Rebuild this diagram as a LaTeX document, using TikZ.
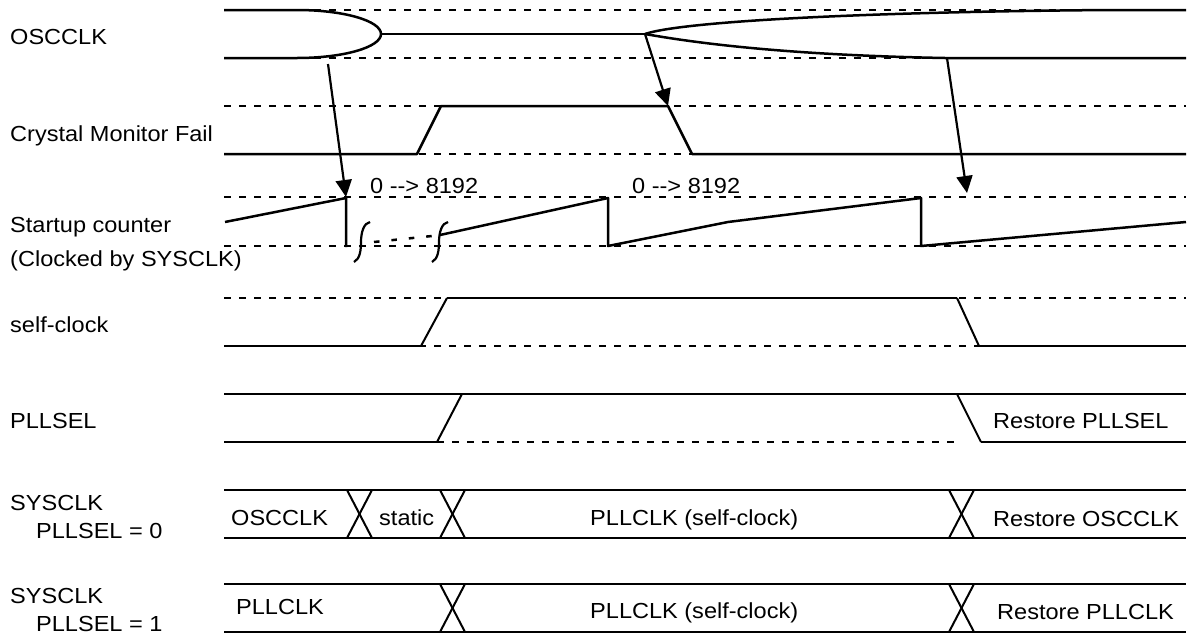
\documentclass[tikz,border=0pt]{standalone}
\usepackage{fontspec}
\setmainfont{Liberation Sans}[FakeStretch=1.08]
\usetikzlibrary{arrows.meta}
\tikzset{
  wave/.style={line width=2.5pt, line join=round},
  ramp/.style={line width=2pt},
  gridline/.style={line width=1.1pt, dash pattern=on 7pt off 8pt},
  brk/.style={line width=2.5pt, dash pattern=on 5.5pt off 12pt},
  sq/.style={line width=2.2pt},
  lbl/.style={anchor=base west, inner sep=0pt, font=\fontsize{21.8}{26}\selectfont},
  arr/.style={line width=2.2pt, -{Triangle[length=17pt,width=16pt]}},
}
\newcommand{\cntarrow}{0 -\kern0pt-\kern0pt> 8192}
\begin{document}
\begin{tikzpicture}[x=1pt,y=-1pt]
\useasboundingbox (0,0) rectangle (1192,635);
% dashed reference lines
\foreach \yy in {10,58,106,154,197,246,298,346}
  \draw[gridline] (224,\yy) -- (1186,\yy);
\draw[gridline] (437,442) -- (957,442);

% labels
\node[lbl] (lOSC) at (10,44) {OSCCLK};
\node[lbl] (lCMF) at (10,141) {Crystal Monitor Fail};
\node[lbl] (lSC1) at (10,232) {Startup counter};
\node[lbl] (lSC2) at (10,266) {(Clocked by SYSCLK)};
\node[lbl] (lSelf) at (10,332) {self-clock};
\node[lbl] (lPLL) at (10,428) {PLLSEL};
\node[lbl] (lSys0a) at (10,510) {SYSCLK};
\node[lbl] (lSys0b) at (36,538) {PLLSEL = 0};
\node[lbl] (lSys1a) at (10,603) {SYSCLK};
\node[lbl] (lSys1b) at (36,631) {PLLSEL = 1};

% OSCCLK
\draw[wave] (224,10) -- (297,10) arc[start angle=-90,end angle=90,x radius=84,y radius=24] -- (224,58);
\draw[wave] (381,34) -- (645,34);
\draw[wave] (645,34) .. controls (680,22) and (850,12) .. (1110,10) -- (1186,10);
\draw[wave] (645,34) .. controls (690,42) and (780,55) .. (945,58) -- (1186,58);

% Crystal Monitor Fail
\draw[wave] (224,154) -- (417,154) -- (441,106) -- (668,106) -- (692,154) -- (1186,154);

% Startup counter
\draw[wave] (225,222) -- (346,198) -- (346,247);
\draw[sq] (354,262) .. controls (360,259) and (361,250) .. (361,242)
          .. controls (361,232) and (364,223) .. (370,222);
\draw[sq] (432,262) .. controls (438,259) and (439,250) .. (439,242)
          .. controls (439,232) and (442,223) .. (448,222);
\draw[brk] (374,242) -- (432,236);
\draw[wave] (440,235) -- (608,198) -- (608,246) -- (728,222) -- (921,198) -- (921,246) -- (1186,222);
\node[lbl] (c1) at (370,193) {\cntarrow};
\node[lbl] (c2) at (632,193) {\cntarrow};

% self-clock
\draw[wave] (224,346) -- (420,346);
\draw[ramp] (421,346) -- (447,298);
\draw[wave] (447,298) -- (957,298);
\draw[ramp] (957,298) -- (979,346);
\draw[wave] (979,346) -- (1186,346);

% PLLSEL
\draw[wave] (224,394) -- (1186,394);
\draw[wave] (224,442) -- (437,442);
\draw[ramp] (437,442) -- (462,394);
\draw[ramp] (957,394) -- (981,442);
\draw[wave] (981,442) -- (1186,442);
\node[lbl] (rPLL) at (993,428) {Restore PLLSEL};

% SYSCLK PLLSEL = 0
\draw[wave] (224,490) -- (1186,490);
\draw[wave] (224,538) -- (1186,538);
\foreach \xa/\xb in {347/372,440/465,949/974}{
  \draw[ramp] (\xa,490) -- (\xb,538);
  \draw[ramp] (\xa,538) -- (\xb,490);
}
\node[lbl] (s0a) at (231,525) {OSCCLK};
\node[lbl] (s0b) at (379,525) {static};
\node[lbl] (s0c) at (590,525) {PLLCLK (self-clock)};
\node[lbl] (s0d) at (993,526) {Restore OSCCLK};

% SYSCLK PLLSEL = 1
\draw[wave] (224,584) -- (1186,584);
\draw[wave] (224,632) -- (1186,632);
\foreach \xa/\xb in {440/465,949/974}{
  \draw[ramp] (\xa,584) -- (\xb,632);
  \draw[ramp] (\xa,632) -- (\xb,584);
}
\node[lbl] (s1a) at (236,614) {PLLCLK};
\node[lbl] (s1c) at (590,618) {PLLCLK (self-clock)};
\node[lbl] (s1d) at (997,619) {Restore PLLCLK};

% causal arrows
\coordinate (a1s) at (328,64);
\coordinate (a1e) at (346,197);
\coordinate (a2s) at (645,34);
\coordinate (a2e) at (668,106);
\coordinate (a3s) at (947,58);
\coordinate (a3e) at (967,193);
\draw[arr] (a1s) -- (a1e);
\draw[arr] (a2s) -- (a2e);
\draw[arr] (a3s) -- (a3e);
\end{tikzpicture}
\end{document}
